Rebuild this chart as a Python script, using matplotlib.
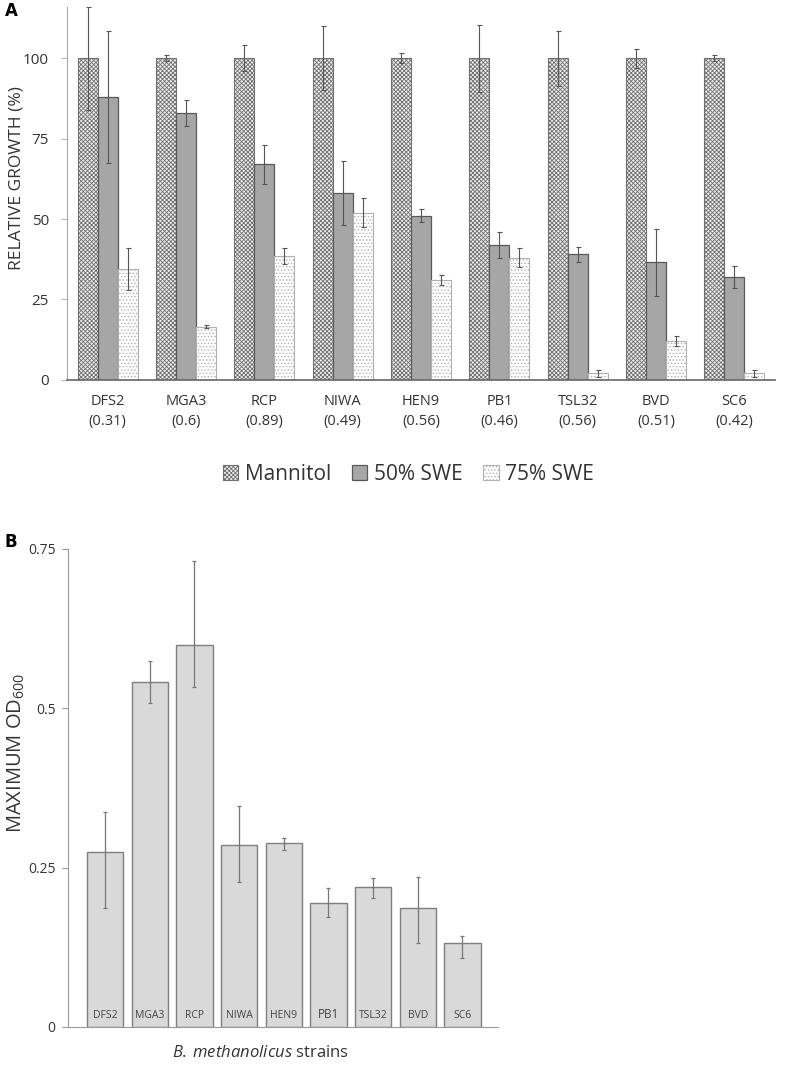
import numpy as np
import matplotlib
matplotlib.use("Agg")
import matplotlib.pyplot as plt

plt.rcParams['font.family'] = ['Open Sans', 'DejaVu Sans']
plt.rcParams['mathtext.fontset'] = 'custom'
plt.rcParams['mathtext.rm'] = 'Open Sans'
plt.rcParams['mathtext.it'] = 'Open Sans:italic'
plt.rcParams['hatch.linewidth'] = 0.6

# panel A data
strains = ["DFS2", "MGA3", "RCP", "NIWA", "HEN9", "PB1", "TSL32", "BVD", "SC6"]
ratios = ["0.31", "0.6", "0.89", "0.49", "0.56", "0.46", "0.56", "0.51", "0.42"]
mannitol = [100, 100, 100, 100, 100, 100, 100, 100, 100]
mannitol_err = [16, 1, 4, 10, 1.5, 10.5, 8.5, 3, 1]
swe50 = [88, 83, 67, 58, 51, 42, 39, 36.5, 32]
swe50_err = [20.5, 4, 6, 10, 2, 4, 2.3, 10.5, 3.5]
swe75 = [34.5, 16.5, 38.5, 52, 31, 38, 2, 12, 2]
swe75_err = [6.5, 0.5, 2.5, 4.5, 1.5, 3, 1, 1.5, 1]

# panel B data
od_max = [0.275, 0.541, 0.599, 0.286, 0.288, 0.195, 0.220, 0.187, 0.132]
od_err_low = [0.088, 0.033, 0.066, 0.058, 0.010, 0.023, 0.017, 0.056, 0.023]
od_err_high = [0.063, 0.033, 0.132, 0.060, 0.009, 0.023, 0.014, 0.049, 0.010]

fig = plt.figure(figsize=(7.87, 10.67), dpi=100)

# ---------- Panel A ----------
axA = fig.add_axes([0.085, 0.644, 0.900, 0.3496])
x = np.arange(len(strains))
w = 0.255
ekw = dict(ecolor='#555555', elinewidth=0.8, capsize=1.8, capthick=0.8)

axA.bar(x - w, mannitol, w, color='#eeeeee', edgecolor='#707070', hatch='xxxxxxxx',
        linewidth=0.8, yerr=mannitol_err, error_kw=ekw, label='Mannitol')
axA.bar(x, swe50, w, color='#a6a6a6', edgecolor='#595959', linewidth=0.9,
        yerr=swe50_err, error_kw=ekw, label='50% SWE')
axA.bar(x + w, swe75, w, color='#ffffff', edgecolor='#b0b0b0', hatch='.....',
        linewidth=0.8, yerr=swe75_err, error_kw=ekw, label='75% SWE')

axA.set_xlim(-0.52, 8.52)
axA.set_ylim(0, 116)
axA.set_yticks([0, 25, 50, 75, 100])
axA.set_xticks(x)
axA.set_xticklabels([f"{s}\n({r})" for s, r in zip(strains, ratios)], fontsize=10.5,
                    color='#333333', linespacing=1.5)
axA.tick_params(axis='x', length=0, pad=10)
axA.tick_params(axis='y', length=4, color='#bbbbbb', labelsize=11, labelcolor='#333333', pad=9)
for s in ['top', 'right']:
    axA.spines[s].set_visible(False)
axA.spines['left'].set_color('#aaaaaa')
axA.spines['bottom'].set_color('#666666')
axA.spines['bottom'].set_linewidth(1.2)
axA.set_ylabel("RELATIVE GROWTH (%)", fontsize=12.5, color='#333333')
axA.yaxis.set_label_coords(-0.06, 0.54)
axA.legend(loc='upper center', bbox_to_anchor=(0.482, -0.175), ncol=3, frameon=False,
           fontsize=15, handlelength=0.75, handleheight=0.75, handletextpad=0.3,
           columnspacing=1.0, labelcolor='#333333')
fig.text(0.006, 0.985, "A", fontsize=12, fontweight='bold', family='DejaVu Sans')

# ---------- Panel B ----------
axB = fig.add_axes([0.0864, 0.0375, 0.5466, 0.448])
axB.bar(x, od_max, 0.81, color='#d9d9d9', edgecolor='#7f7f7f', linewidth=1.0,
        yerr=[od_err_low, od_err_high],
        error_kw=dict(ecolor='#777777', elinewidth=0.9, capsize=1.5, capthick=0.9))
for i, s in enumerate(strains):
    axB.text(i, 0.01, s, ha='center', va='bottom',
             fontsize=8.5 if s == 'PB1' else 7.5, color='#444444')
axB.set_xlim(-0.83, 8.8)
axB.set_ylim(0, 0.75)
axB.set_yticks([0, 0.25, 0.5, 0.75])
axB.set_yticklabels(["0", "0.25", "0.5", "0.75"])
axB.set_xticks([])
axB.tick_params(axis='y', length=4, color='#999999', labelsize=10, labelcolor='#333333', pad=5)
for s in ['top', 'right']:
    axB.spines[s].set_visible(False)
axB.spines['left'].set_color('#999999')
axB.spines['bottom'].set_color('#999999')
axB.set_ylabel("MAXIMUM OD$_{600}$", fontsize=14.5, color='#333333')
axB.yaxis.set_label_coords(-0.095, 0.573)
axB.set_xlabel(r"$\it{B.\:methanolicus}$ strains", fontsize=12, color='#333333')
axB.xaxis.set_label_coords(0.447, -0.038)
fig.text(0.006, 0.487, "B", fontsize=12, fontweight='bold', family='DejaVu Sans')

fig.savefig("out.png", dpi=100)
